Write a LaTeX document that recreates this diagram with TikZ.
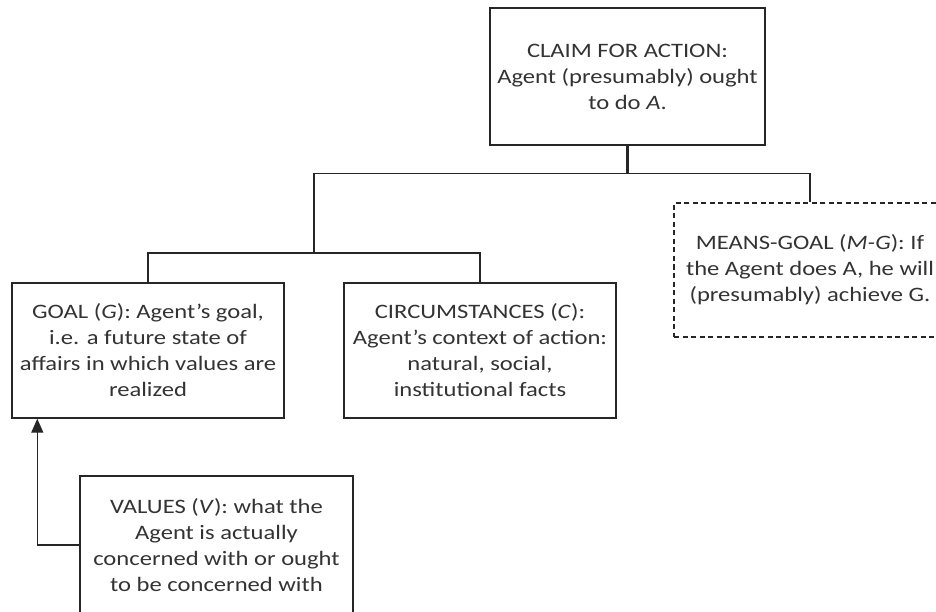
\documentclass[tikz,border=0pt]{standalone}
\usepackage{fontspec}
\setmainfont{Carlito}[FakeStretch=1.2]
\usepackage{tikz}
\usetikzlibrary{arrows.meta,positioning}

\definecolor{inkgray}{HTML}{333333}
\definecolor{linegray}{HTML}{262626}

\begin{document}
\begin{tikzpicture}[x=1pt, y=-1pt,
  every node/.style = {shape=rectangle, draw=linegray, line width=1.4pt, align=center,
    inner sep=0pt, text=inkgray, font=\fontsize{20.5}{26}\selectfont},
  conn/.style = {draw=linegray, line width=1.4pt},
  dashbox/.style = {dashed, dash pattern=on 5pt off 3.5pt}]
  \useasboundingbox (0,0) rectangle (936,612);
  \clip (0,0) rectangle (936,612);

  \node (claim) [minimum width=275pt, minimum height=137pt] at (627.5,76.5)
    {CLAIM FOR ACTION:\\ Agent (presumably) ought\\ to do \textit{A}.};
  \node (goal) [minimum width=272pt, minimum height=135pt] at (148,350.5)
    {GOAL (\textit{G}): Agent's goal,\\ i.e. a future state of\\ affairs in which values are\\ realized};
  \node (circ) [minimum width=272pt, minimum height=135pt] at (480,350.5)
    {CIRCUMSTANCES (\textit{C}):\\ Agent's context of action:\\ natural, social,\\ institutional facts};
  \node (means) [dashbox, minimum width=272pt, minimum height=134pt] at (810,270)
    {MEANS-GOAL (\textit{M-G}): If\\ the Agent does A, he will\\ (presumably) achieve G.};
  \node (values) [minimum width=273pt, minimum height=138pt] at (216.5,545)
    {VALUES (\textit{V}): what the\\ Agent is actually\\ concerned with or ought\\ to be concerned with};

  % tree of premises
  \draw[conn, line width=2.2pt] (claim.south) -- ++(0,28) coordinate (hub);
  \coordinate (midhub) at (314,253);
  \draw[conn] (hub) -| (means.north);
  \draw[conn] (hub) -| (midhub);
  \draw[conn] (midhub) -| (goal.north);
  \draw[conn] (midhub) -| (circ.north);

  % values support the goal
  \draw[conn, -{Triangle[length=14pt, width=12pt]}] (values.west) -| ([xshift=26pt]goal.south west);
\end{tikzpicture}
\end{document}
